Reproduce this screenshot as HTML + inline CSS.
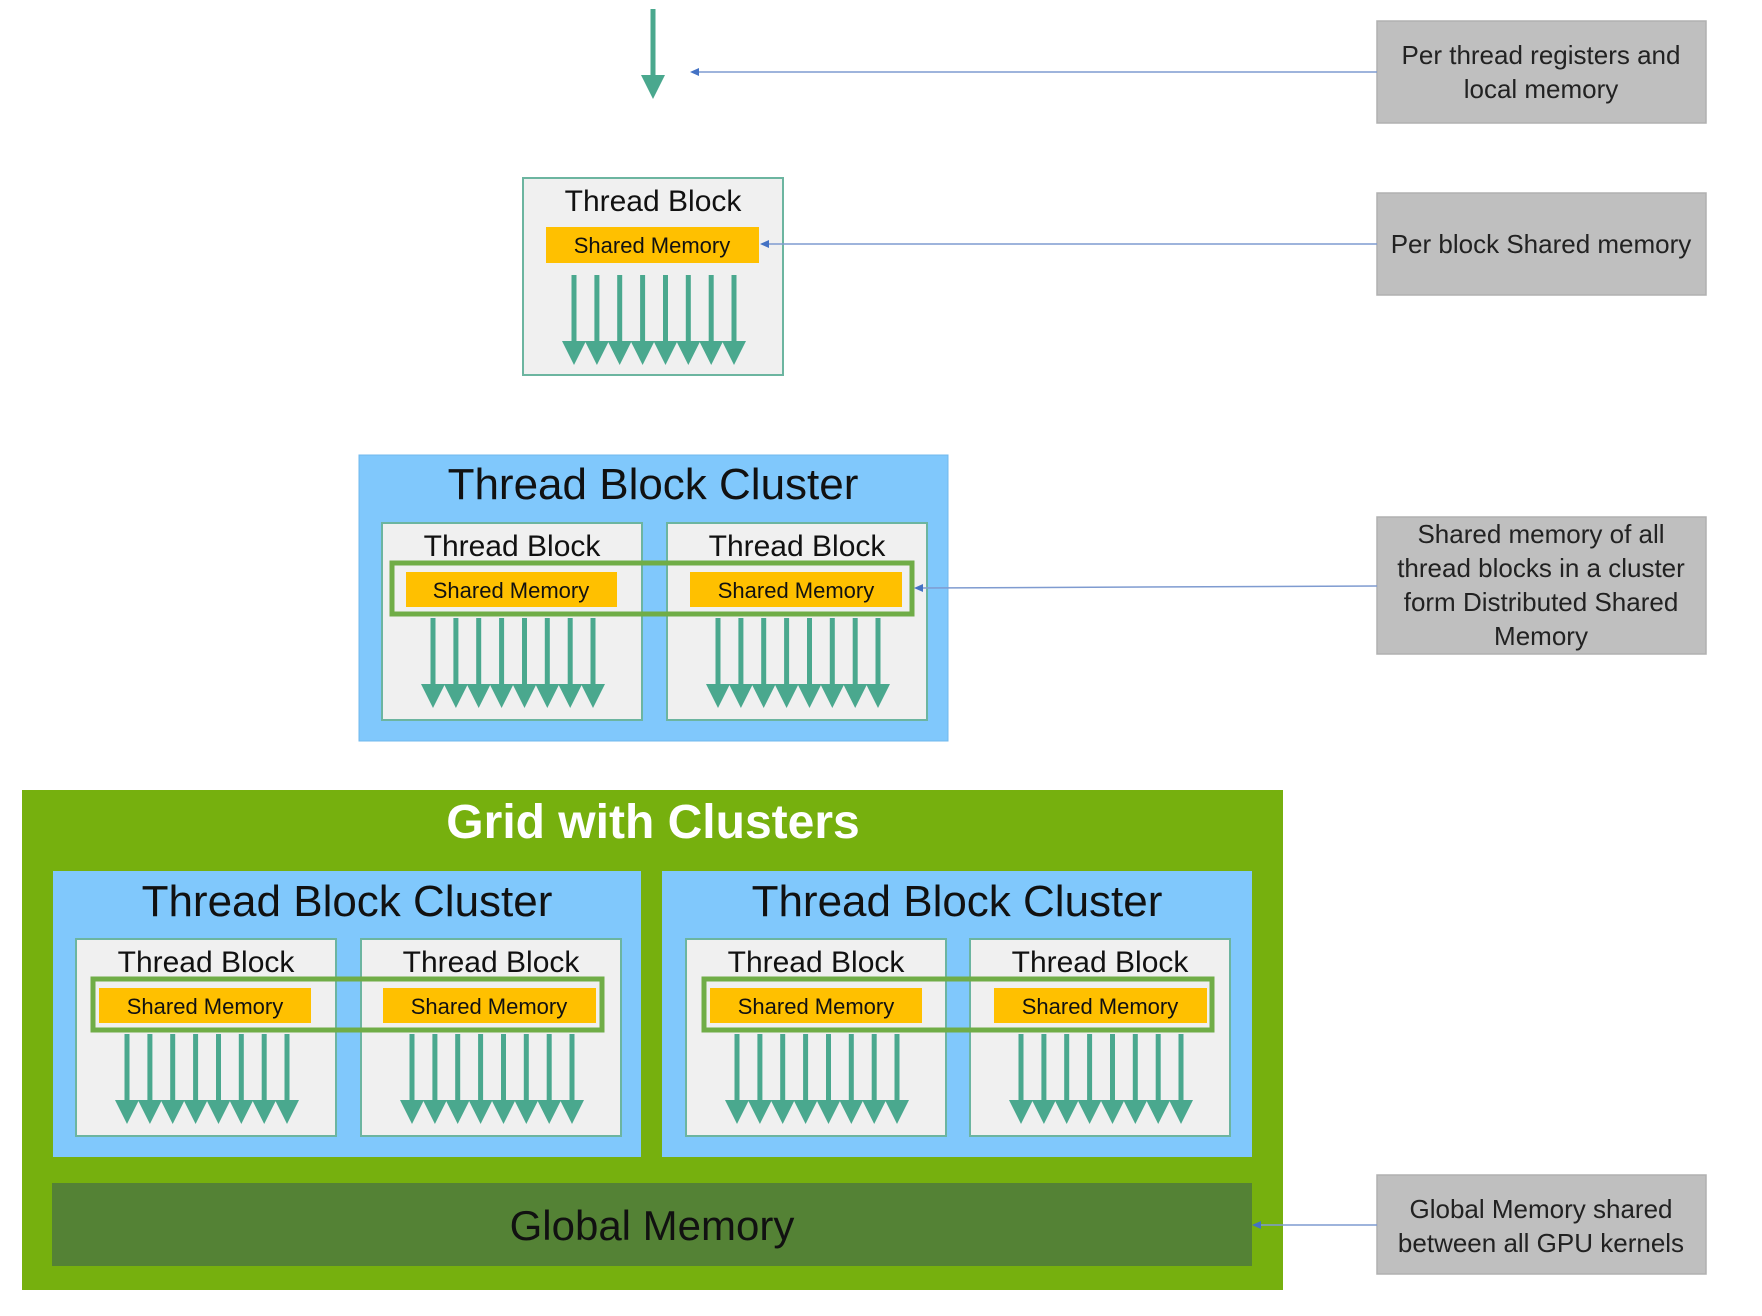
<!DOCTYPE html>
<html><head><meta charset="utf-8"><style>
html,body{margin:0;padding:0;background:#fff;}
svg{display:block;}
text{font-family:"Liberation Sans",sans-serif;}
</style></head><body>
<svg width="1762" height="1316" viewBox="0 0 1762 1316" xmlns="http://www.w3.org/2000/svg">
<defs>
<g id="arr" fill="#4aa88e">
<rect x="-2.5" y="0" width="5" height="68"/><polygon points="-12,66 12,66 0,90"/>
<rect x="20.4" y="0" width="5" height="68"/><polygon points="10.9,66 34.9,66 22.9,90"/>
<rect x="43.2" y="0" width="5" height="68"/><polygon points="33.7,66 57.7,66 45.7,90"/>
<rect x="66.1" y="0" width="5" height="68"/><polygon points="56.6,66 80.6,66 68.6,90"/>
<rect x="89" y="0" width="5" height="68"/><polygon points="79.5,66 103.5,66 91.5,90"/>
<rect x="111.8" y="0" width="5" height="68"/><polygon points="102.3,66 126.3,66 114.3,90"/>
<rect x="134.7" y="0" width="5" height="68"/><polygon points="125.2,66 149.2,66 137.2,90"/>
<rect x="157.5" y="0" width="5" height="68"/><polygon points="148,66 172,66 160,90"/>
</g>
<g id="tbbox"><rect x="0" y="0" width="260" height="197" fill="#f0f0f0" stroke="#6cb5a0" stroke-width="2"/></g>
</defs>

<rect x="650.5" y="9" width="5" height="68" fill="#4aa88e"/>
<polygon points="641,75 665,75 653,99" fill="#4aa88e"/>

<g fill="#bfbfbf" stroke="#b0b0b0" stroke-width="1.5">
<rect x="1377" y="21" width="329" height="102"/>
<rect x="1377" y="193" width="329" height="102"/>
<rect x="1377" y="517" width="329" height="137"/>
<rect x="1377" y="1175" width="329" height="99"/>
</g>
<g font-size="26" fill="#222" text-anchor="middle">
<text x="1541" y="64">Per thread registers and</text>
<text x="1541" y="98">local memory</text>
<text x="1541" y="253">Per block Shared memory</text>
<text x="1541" y="543">Shared memory of all</text>
<text x="1541" y="577">thread blocks in a cluster</text>
<text x="1541" y="611">form Distributed Shared</text>
<text x="1541" y="645">Memory</text>
<text x="1541" y="1218">Global Memory shared</text>
<text x="1541" y="1252">between all GPU kernels</text>
</g>

<use href="#tbbox" x="523" y="178"/>
<text x="653" y="211" font-size="30" text-anchor="middle" fill="#111">Thread Block</text>
<rect x="546" y="227" width="213" height="36" fill="#ffc000"/>
<text x="652" y="253" font-size="22" text-anchor="middle" fill="#111">Shared Memory</text>
<use href="#arr" x="574" y="275"/>

<rect x="359" y="455" width="589" height="286" fill="#80c8fc" stroke="#70b8ec" stroke-width="1"/>
<text x="653" y="499" font-size="44" text-anchor="middle" fill="#111">Thread Block Cluster</text>
<use href="#tbbox" x="382" y="523"/>
<use href="#tbbox" x="667" y="523"/>
<text x="512" y="556" font-size="30" text-anchor="middle" fill="#111">Thread Block</text>
<text x="797" y="556" font-size="30" text-anchor="middle" fill="#111">Thread Block</text>
<rect x="392" y="563" width="520" height="51" fill="none" stroke="#70ad47" stroke-width="5"/>
<rect x="406" y="572" width="211" height="35" fill="#ffc000"/>
<rect x="690" y="572" width="212" height="35" fill="#ffc000"/>
<text x="511" y="598" font-size="22" text-anchor="middle" fill="#111">Shared Memory</text>
<text x="796" y="598" font-size="22" text-anchor="middle" fill="#111">Shared Memory</text>
<use href="#arr" x="433" y="618"/>
<use href="#arr" x="718" y="618"/>

<rect x="22" y="790" width="1261" height="500" fill="#76b00e"/>
<text x="653" y="838" font-size="48" font-weight="bold" text-anchor="middle" fill="#fff">Grid with Clusters</text>
<rect x="53" y="871" width="588" height="286" fill="#80c8fc"/>
<rect x="662" y="871" width="590" height="286" fill="#80c8fc"/>
<text x="347" y="916" font-size="44" text-anchor="middle" fill="#111">Thread Block Cluster</text>
<text x="957" y="916" font-size="44" text-anchor="middle" fill="#111">Thread Block Cluster</text>
<use href="#tbbox" x="76" y="939"/>
<use href="#tbbox" x="361" y="939"/>
<use href="#tbbox" x="686" y="939"/>
<use href="#tbbox" x="970" y="939"/>
<g font-size="30" text-anchor="middle" fill="#111">
<text x="206" y="972">Thread Block</text>
<text x="491" y="972">Thread Block</text>
<text x="816" y="972">Thread Block</text>
<text x="1100" y="972">Thread Block</text>
</g>
<rect x="93" y="979" width="509" height="51" fill="none" stroke="#70ad47" stroke-width="5"/>
<rect x="704" y="979" width="508" height="51" fill="none" stroke="#70ad47" stroke-width="5"/>
<g fill="#ffc000">
<rect x="99" y="988" width="212" height="35"/>
<rect x="383" y="988" width="213" height="35"/>
<rect x="710" y="988" width="212" height="35"/>
<rect x="994" y="988" width="213" height="35"/>
</g>
<g font-size="22" text-anchor="middle" fill="#111">
<text x="205" y="1014">Shared Memory</text>
<text x="489" y="1014">Shared Memory</text>
<text x="816" y="1014">Shared Memory</text>
<text x="1100" y="1014">Shared Memory</text>
</g>
<use href="#arr" x="127" y="1034"/>
<use href="#arr" x="412" y="1034"/>
<use href="#arr" x="737" y="1034"/>
<use href="#arr" x="1021" y="1034"/>
<rect x="52" y="1183" width="1200" height="83" fill="#548235"/>
<text x="652" y="1240" font-size="42" text-anchor="middle" fill="#111">Global Memory</text>

<g stroke="#7f9bd0" stroke-width="1.5" fill="none">
<line x1="696" y1="72" x2="1377" y2="72"/>
<line x1="766" y1="244" x2="1377" y2="244"/>
<line x1="920" y1="588" x2="1377" y2="586"/>
<line x1="1258" y1="1225" x2="1377" y2="1225"/>
</g>
<g fill="#4472c4">
<polygon points="690,72 699,68 699,76"/>
<polygon points="760,244 769,240 769,248"/>
<polygon points="914,588 923,584 923,592"/>
<polygon points="1252,1225 1261,1221 1261,1229"/>
</g>
</svg>
</body></html>
